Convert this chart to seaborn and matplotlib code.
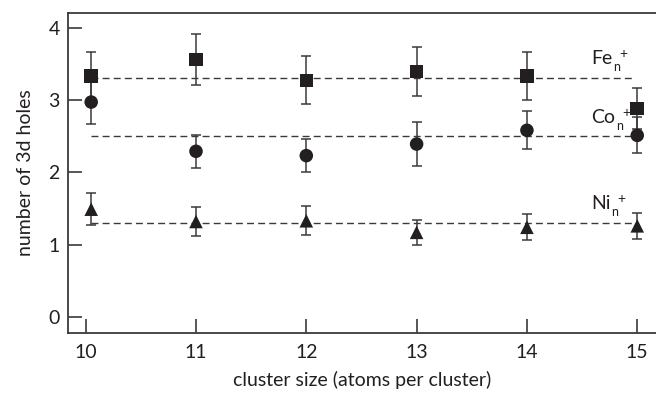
import numpy as np
import pandas as pd
import matplotlib
matplotlib.use("Agg")
import matplotlib.pyplot as plt
from matplotlib.transforms import IdentityTransform
import seaborn as sns

# cluster sizes (atoms per cluster)
sizes = [10, 11, 12, 13, 14, 15]

# number of 3d holes per element, with error bar half-widths
fe_holes = [3.33, 3.56, 3.27, 3.39, 3.33, 2.88]
fe_err = [0.33, 0.35, 0.33, 0.34, 0.33, 0.28]
co_holes = [2.97, 2.29, 2.23, 2.39, 2.58, 2.51]
co_err = [0.30, 0.23, 0.23, 0.30, 0.26, 0.25]
ni_holes = [1.49, 1.32, 1.33, 1.17, 1.24, 1.26]
ni_err = [0.22, 0.20, 0.20, 0.17, 0.18, 0.18]

# bulk reference values (dashed lines)
bulk_values = {"Fe": 3.3, "Co": 2.5, "Ni": 1.3}
series_labels = {"Fe": "Fe", "Co": "Co", "Ni": "Ni"}
markers = {"Fe": "s", "Co": "o", "Ni": "^"}

frames = []
for el, vals, errs in [("Fe", fe_holes, fe_err), ("Co", co_holes, co_err), ("Ni", ni_holes, ni_err)]:
    frames.append(pd.DataFrame({"size": sizes, "holes": vals, "err": errs, "element": el}))
df = pd.concat(frames, ignore_index=True)
# the n = 10 points sit slightly right of the tick
df["xpos"] = df["size"] + np.where(df["size"] == 10, 0.05, 0.0)

sns.set_style("ticks")
plt.rcParams["font.family"] = ["Lato", "DejaVu Sans"]

ink = "#231f20"
grey = "#3a3a3a"
fig = plt.figure(figsize=(6.56, 3.95), dpi=100)
ax = fig.add_axes([0.1037, 0.157, 0.8963, 0.81])

# dashed bulk lines
for el, v in bulk_values.items():
    ax.plot([10.05, 14.97], [v, v], ls=(0, (5, 3)), color=grey, lw=1.0, zorder=1)

# error bars
for el in ["Fe", "Co", "Ni"]:
    sub = df[df["element"] == el]
    ax.errorbar(sub["xpos"], sub["holes"], yerr=sub["err"], fmt="none",
                ecolor=grey, elinewidth=1.1, capsize=3.7, capthick=1.1, zorder=2)

sns.scatterplot(data=df, x="xpos", y="holes", style="element", markers=markers,
                color=ink, s=95, edgecolor=ink, linewidth=0, legend=False, ax=ax, zorder=3)

ax.set_xlim(9.84, 15.17)
ax.set_ylim(-0.22, 4.2)
ax.set_xticks(sizes)
ax.set_yticks([0, 1, 2, 3, 4])
ax.tick_params(direction="in", length=10, width=1.2, color=grey,
               labelsize=14, labelcolor=ink, pad=6)
ax.tick_params(axis="x", pad=8)
ax.set_xlabel("cluster size (atoms per cluster)", fontsize=14, color=ink, labelpad=7)
ax.set_ylabel("number of 3d holes", fontsize=14, color=ink, labelpad=10)
for side in ["left", "bottom", "top"]:
    ax.spines[side].set_linewidth(1.3)
    ax.spines[side].set_color(grey)
ax.spines["right"].set_visible(False)

# element labels: symbol with subscript n and superscript +
label_base = {"Fe": 3.49, "Co": 2.68, "Ni": 1.49}
fig.canvas.draw()
renderer = fig.canvas.get_renderer()
for el, yv in label_base.items():
    t = ax.text(14.58, yv, series_labels[el], fontsize=14, color=ink,
                va="baseline", ha="left")
    bb = t.get_window_extent(renderer)
    bx, by = ax.transData.transform((14.58, yv))
    fig.text(bb.x1 + 1, by - 7, "n", fontsize=9, color=ink, va="baseline",
             ha="left", transform=IdentityTransform())
    fig.text(bb.x1 + 7, by + 10.5, "+", fontsize=10, color=ink, va="center",
             ha="left", transform=IdentityTransform())

fig.savefig("out.png", dpi=100)
